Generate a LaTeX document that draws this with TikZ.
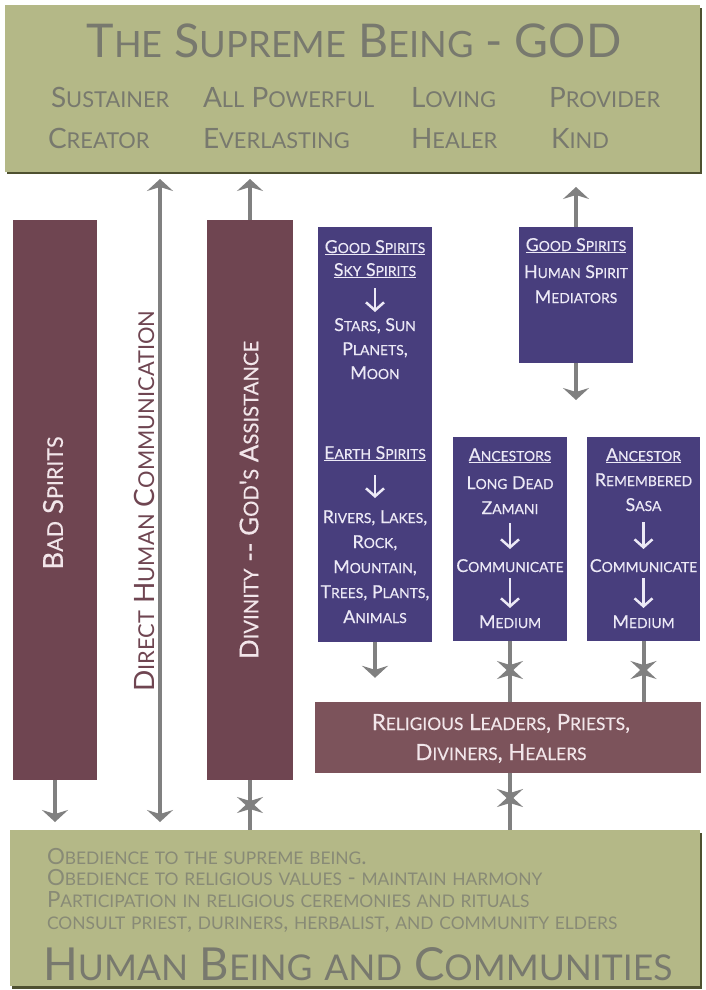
\documentclass[tikz,border=0pt]{standalone}
\usepackage{fontspec}
\setmainfont{Lato}
\newfontfamily\medfont[FakeBold=0.35]{Lato}
\usetikzlibrary{arrows.meta,calc}
\definecolor{olive}{RGB}{180,184,135}
\definecolor{oliveshadow}{RGB}{78,80,48}
\definecolor{godgray}{RGB}{120,121,110}
\definecolor{lowgray}{RGB}{136,138,118}
\definecolor{maroonbox}{RGB}{111,69,81}
\definecolor{relmaroon}{RGB}{124,83,91}
\definecolor{spiritblue}{RGB}{72,62,125}
\definecolor{arrowgray}{RGB}{128,128,128}
\definecolor{boxtext}{RGB}{236,233,246}
\definecolor{martext}{RGB}{242,230,234}

\ExplSyntaxOn
\cs_new_protected:Npn \__fsc_word:n #1
  {
    \tl_map_inline:nn {#1}
      {
        \int_compare:nNnTF { \char_value_uccode:n {`##1} } = { 0 }
          { ##1 }
          {
            \int_compare:nNnTF { \char_value_uccode:n {`##1} } = { `##1 }
              { ##1 }
              { { \fontsize{0.78em}{1em}\selectfont \tex_uppercase:D {##1} } }
          }
      }
  }
\NewDocumentCommand \fsc { m }
  {
    \seq_set_split:Nnn \l_tmpa_seq { ~ } {#1}
    \seq_map_indexed_inline:Nn \l_tmpa_seq
      {
        \int_compare:nNnT {##1} > {1} { \c_space_tl }
        \__fsc_word:n {##2}
      }
  }
\ExplSyntaxOff

\tikzset{
  banner/.style={fill=olive, inner sep=0, outer sep=0},
  mbox/.style={fill=maroonbox, inner sep=0, outer sep=0},
  bbox/.style={fill=spiritblue, inner sep=0, outer sep=0},
  txt/.style={inner sep=0, outer sep=0, anchor=base},
  bt/.style={txt, text=boxtext, font=\medfont\fontsize{17.8}{20}\selectfont, text height=12pt, text depth=3pt},
  godw/.style={inner sep=0, outer sep=0, anchor=base west, text=godgray, font=\fontsize{28}{30}\selectfont},
  lowl/.style={inner sep=0, outer sep=0, anchor=base west, text=lowgray, font=\fontsize{22.3}{24}\selectfont},
  rot/.style={inner sep=0, outer sep=0, rotate=90, font=\fontsize{28}{30}\selectfont},
  garrow/.style={draw=arrowgray, line width=4pt, -{Stealth[length=12pt,width=26pt,inset=4pt]}},
  garrowboth/.style={draw=arrowgray, line width=4pt, {Stealth[length=12pt,width=26pt,inset=4pt]}-{Stealth[length=12pt,width=26pt,inset=4pt]}},
  warrow/.style={draw=boxtext, line width=2.5pt, -{Straight Barb[length=8pt,width=18pt]}}
}

\begin{document}
\begin{tikzpicture}[x=1pt,y=-1pt]
\fill[white] (0,0) rectangle (705,990);
\useasboundingbox (0,0) rectangle (705,990);

% top banner
\fill[oliveshadow] (7,8) rectangle (702,174);
\node[banner, minimum width=695, minimum height=167] (god) at (352.5,88.5) {};
\node[txt, text=godgray, font=\fontsize{46.5}{50}\selectfont] (title) at (354,57) {\fsc{The Supreme Being - GOD}};
\node[godw] (w1) at (51,107) {\fsc{Sustainer}};
\node[godw] (w2) at (203,107) {\fsc{All Powerful}};
\node[godw] (w3) at (411,107) {\fsc{Loving}};
\node[godw] (w4) at (549,107) {\fsc{Provider}};
\node[godw] (w5) at (48,148) {\fsc{Creator}};
\node[godw] (w6) at (203,148) {\fsc{Everlasting}};
\node[godw] (w7) at (411,148) {\fsc{Healer}};
\node[godw] (w8) at (551,148) {\fsc{Kind}};

% bottom banner
\fill[oliveshadow] (12,833) rectangle (702,989);
\node[banner, minimum width=690, minimum height=156] (hum) at (355,908) {};
\node[lowl] (l1) at (47,864) {\fsc{Obedience to the supreme being.}};
\node[lowl] (l2) at (47,885) {\fsc{Obedience to religious values - maintain harmony}};
\node[lowl] (l3) at (47,907) {\fsc{Participation in religious ceremonies and rituals}};
\node[lowl] (l4) at (47,929) {\fsc{consult priest, duriners, herbalist, and community elders}};
\node[inner sep=0, anchor=base west, text=godgray, font=\fontsize{45.5}{50}\selectfont] (hb) at (43,980) {\fsc{Human Being and Communities}};

% left boxes
\node[mbox, minimum width=84, minimum height=560] (bad) at (55,500) {};
\node[rot, text=martext, font=\medfont\fontsize{27.5}{30}\selectfont] (badt) at (53,503) {\fsc{Bad Spirits}};
\coordinate (dhcx) at (160,500);
\node[rot, text=maroonbox] (dhct) at (144,501) {\fsc{Direct Human Communication}};
\node[mbox, minimum width=86, minimum height=560] (div) at (250,500) {};
\node[rot, text=martext, font=\medfont\fontsize{26}{28}\selectfont] (divt) at (249,500) {\fsc{Divinity} -{}- \fsc{God's Assistance}};

% blue boxes
\node[bbox, minimum width=114, minimum height=415] (b1) at (375,434.5) {};
\node[bbox, minimum width=114, minimum height=136] (b2) at (576,295) {};
\node[bbox, minimum width=114, minimum height=204] (b3) at (510,539) {};
\node[bbox, minimum width=113, minimum height=204] (b4) at (643.5,539) {};
\node[fill=relmaroon, inner sep=0, minimum width=386, minimum height=71] (rel) at (508,737.5) {};

% box 1 text
\node[bt] (g1) at (375,253) {\underline{\fsc{Good Spirits}}};
\node[bt] (sky) at (375,276) {\underline{\fsc{Sky Spirits}}};
\node[bt] (stars) at (375,331) {\fsc{Stars, Sun}};
\node[bt] (planets) at (375,355) {\fsc{Planets,}};
\node[bt] (moon) at (375,379) {\fsc{Moon}};
\node[bt] (earth) at (375,459) {\underline{\fsc{Earth Spirits}}};
\node[bt] (rivers) at (375,523) {\fsc{Rivers, Lakes,}};
\node[bt] (rock) at (375,548) {\fsc{Rock,}};
\node[bt] (mount) at (375,573) {\fsc{Mountain,}};
\node[bt] (trees) at (375,598) {\fsc{Trees, Plants,}};
\node[bt] (anim) at (375,623) {\fsc{Animals}};
\draw[warrow, shorten <=9pt, shorten >=7pt] (sky) -- (stars);
\draw[warrow, shorten <=13pt, shorten >=13pt] (earth) -- (rivers);

% box 2 text
\node[bt] (g2) at (576,251) {\underline{\fsc{Good Spirits}}};
\node[bt] (hs) at (576,278) {\fsc{Human Spirit}};
\node[bt] (med) at (576,303) {\fsc{Mediators}};

% box 3 text
\node[bt] (anc3) at (510,461) {\underline{\fsc{Ancestors}}};
\node[bt] (ld) at (510,489) {\fsc{Long Dead}};
\node[bt] (zam) at (510,514) {\fsc{Zamani}};
\node[bt] (com3) at (510,572) {\fsc{Communicate}};
\node[bt] (med3) at (510,628) {\fsc{Medium}};
\draw[warrow, shorten <=6pt, shorten >=11pt] (zam) -- (com3);
\draw[warrow, shorten <=3pt, shorten >=8pt] (com3) -- (med3);

% box 4 text
\node[bt] (anc4) at (643.5,461) {\underline{\fsc{Ancestor}}};
\node[bt] (rem) at (643.5,486) {\fsc{Remembered}};
\node[bt] (sasa) at (643.5,511) {\fsc{Sasa}};
\node[bt] (com4) at (643.5,572) {\fsc{Communicate}};
\node[bt] (med4) at (643.5,628) {\fsc{Medium}};
\draw[warrow, shorten <=8pt, shorten >=11pt] (sasa) -- (com4);
\draw[warrow, shorten <=3pt, shorten >=8pt] (com4) -- (med4);

% religious leaders text
\node[txt, text=martext, font=\medfont\fontsize{22.3}{25}\selectfont] (r1) at (501,730) {\fsc{Religious Leaders, Priests,}};
\node[txt, text=martext, font=\medfont\fontsize{22.3}{25}\selectfont] (r2) at (501,760) {\fsc{Diviners, Healers}};

% grey connectors
\draw[garrow, shorten >=8pt] (bad.south) -- (bad.south |- hum.north);
\draw[garrowboth, shorten <=7pt, shorten >=8pt] (dhcx |- god.south) -- (dhcx |- hum.north);
\draw[garrow, shorten >=7pt] (div.north) -- (div.north |- god.south);
\coordinate (divx) at ($(div.south)!0.5!(div.south |- hum.north)$);
\draw[garrow, shorten >=-4pt] (div.south) -- (divx);
\draw[garrow, shorten >=-4pt] (div.south |- hum.north) -- (divx);
\draw[garrow, shorten >=24pt] (b1.south) -- (b1.south |- rel.north);
\draw[garrow, shorten >=15pt] (b2.north) -- (b2.north |- god.south);
\coordinate (b2end) at (576,400);
\draw[garrow] (b2.south) -- (b2end);
\coordinate (b3x) at (510,670);
\draw[garrow, shorten >=-3pt] (b3.south) -- (b3x);
\draw[garrow, shorten >=-3pt] (b3.south |- rel.north) -- (b3x);
\coordinate (b4x) at (643.5,670);
\draw[garrow, shorten >=-3pt] (b4.south) -- (b4x);
\draw[garrow, shorten >=-3pt] (b4.south |- rel.north) -- (b4x);
\coordinate (relx) at (510,798);
\draw[garrow, shorten >=-3pt] (rel.south -| relx) -- (relx);
\draw[garrow, shorten >=-3pt] (relx |- hum.north) -- (relx);
\end{tikzpicture}
\end{document}
